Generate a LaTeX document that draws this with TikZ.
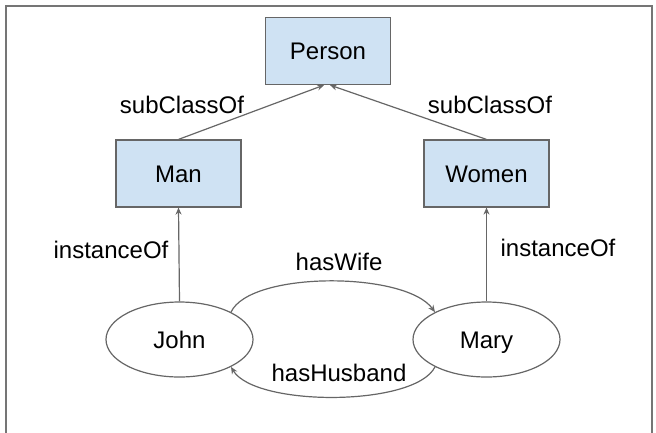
\documentclass[tikz,border=0pt]{standalone}
\usepackage{fontspec}
\setmainfont{Liberation Sans}
\usetikzlibrary{arrows.meta,shapes.geometric}
\definecolor{boxfill}{HTML}{CFE2F3}
\definecolor{edgegray}{HTML}{666666}
\begin{document}
\begin{tikzpicture}[x=1pt,y=-1pt,
  txt/.style={font=\fontsize{24}{28}\selectfont,text height=17pt,text depth=0pt},
  classbox/.style={txt,draw=edgegray,line width=1.2pt,fill=boxfill,minimum width=125pt,minimum height=67pt,inner sep=0pt},
  indiv/.style={txt,draw=edgegray,line width=1.2pt,fill=white,ellipse,minimum width=147pt,minimum height=75pt,inner sep=0pt},
  lbl/.style={txt,inner sep=0pt},
  conn/.style={draw=edgegray,line width=1.2pt,-{Stealth[length=7pt,width=6pt]}}]
\useasboundingbox (0,0) rectangle (656,432);
\draw[edgegray!90,line width=1.5pt] (6,433) -- (6,6) -- (652,6) -- (652,433);
\node[classbox] (person) at (328,51) {Person};
\node[classbox] (man) at (178.5,173.5) {Man};
\node[classbox] (women) at (486.5,173.5) {Women};
\node[indiv] (john) at (179.5,339.5) {John};
\node[indiv] (mary) at (486.5,339.5) {Mary};
\draw[conn] (man.north) -- ([xshift=-4pt]person.south);
\draw[conn] (women.north) -- ([xshift=2pt]person.south);
\draw[conn] (john.north) -- (man.south);
\draw[conn] (mary.north) -- (women.south);
\draw[conn] (john.28) .. controls (250,271) and (405,271) .. (mary.152);
\draw[conn] (mary.208) .. controls (415,407) and (255,407) .. (john.332);
\node[lbl] (l1) at (182,105) {subClassOf};
\node[lbl] (l2) at (490,105) {subClassOf};
\node[lbl] (l3) at (111,250) {instanceOf};
\node[lbl] (l4) at (558,248) {instanceOf};
\node[lbl] (l5) at (339,262) {hasWife};
\node[lbl] (l6) at (339,373) {hasHusband};
\end{tikzpicture}
\end{document}
